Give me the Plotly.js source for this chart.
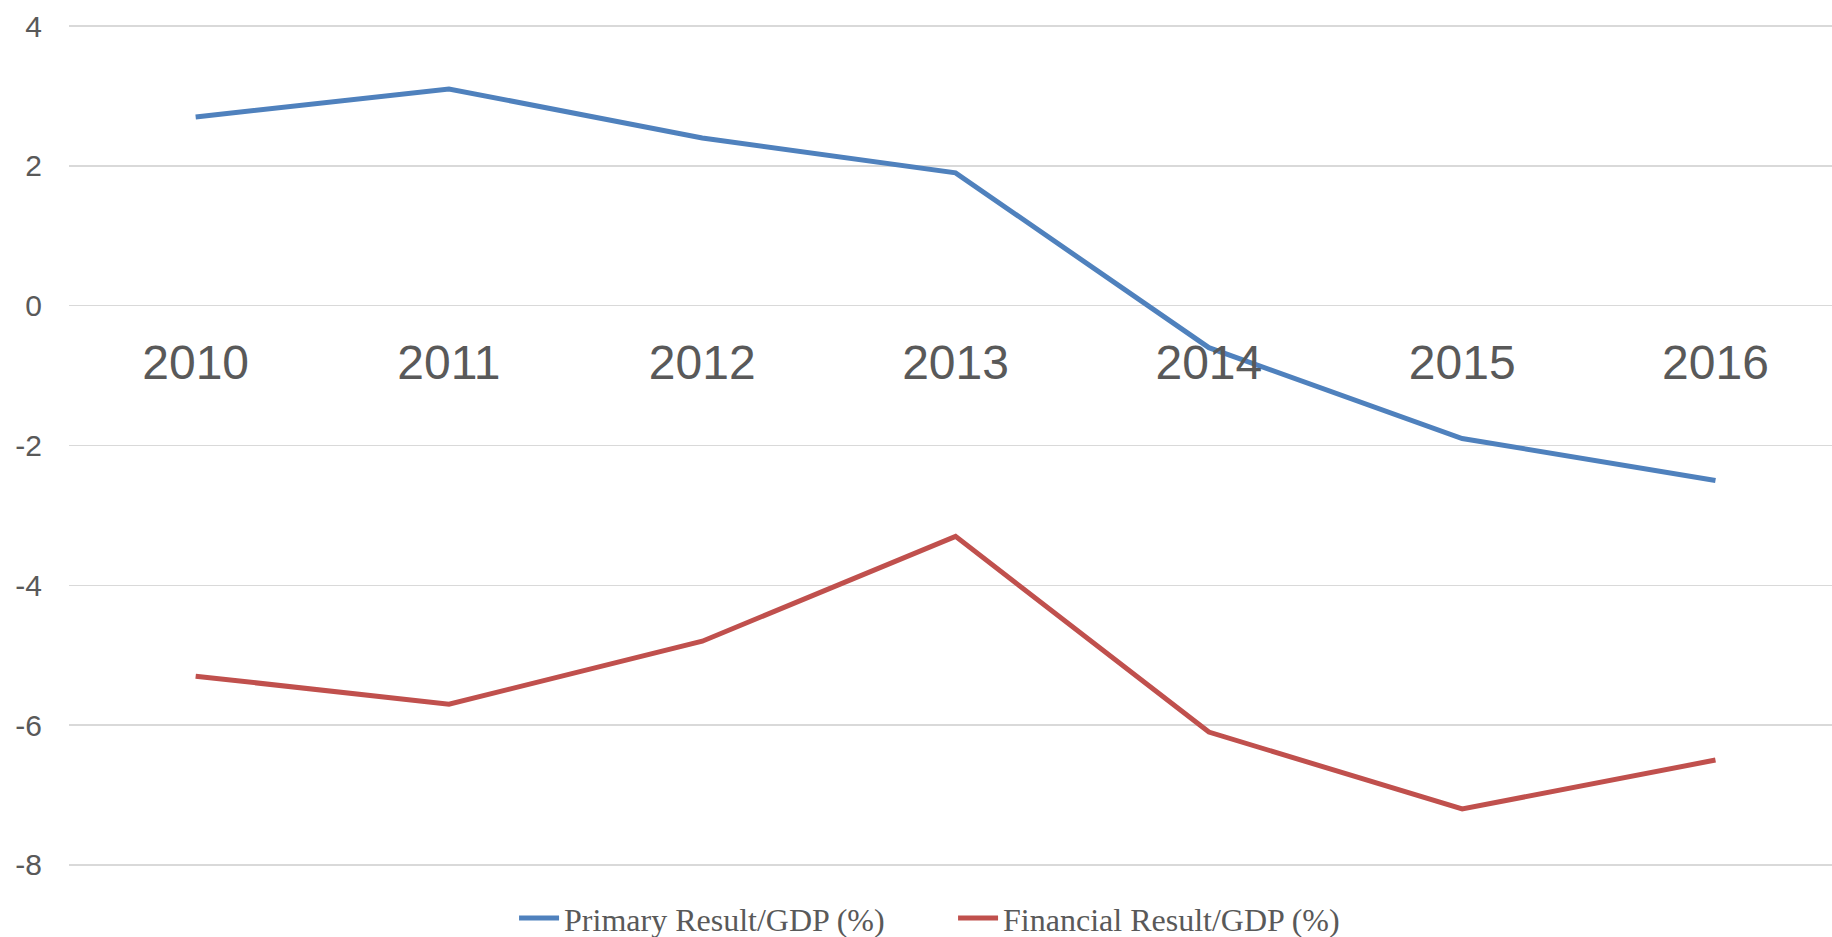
<!DOCTYPE html>
<html>
<head>
<meta charset="utf-8">
<script src="https://cdn.plot.ly/plotly-3.0.1.min.js"></script>
<style>html,body{margin:0;padding:0;background:#fff;}#chart{width:1832px;height:937px;}</style>
</head>
<body>
<div id="chart"></div>
<script>
const years = ["2010", "2011", "2012", "2013", "2014", "2015", "2016"];
const primaryResult = [2.7, 3.1, 2.4, 1.9, -0.6, -1.9, -2.5];
const financialResult = [-5.3, -5.7, -4.8, -3.3, -6.1, -7.2, -6.5];
const yTicks = [-8, -6, -4, -2, 0, 2, 4];

const traces = [
  {x: years, y: primaryResult, type: 'scatter', mode: 'lines', name: 'Primary Result/GDP (%)',
   line: {color: '#4f81bd', width: 5}},
  {x: years, y: financialResult, type: 'scatter', mode: 'lines', name: 'Financial Result/GDP (%)',
   line: {color: '#c0504d', width: 5}}
];

const layout = {
  width: 1832, height: 937,
  margin: {l: 69, r: 0, t: 24, b: 70, pad: 0},
  paper_bgcolor: '#ffffff', plot_bgcolor: '#ffffff',
  showlegend: true,
  legend: {orientation: 'h', xref: 'container', yref: 'container', x: 0.2806, xanchor: 'left', y: 0.02, yanchor: 'middle',
    entrywidth: 384, entrywidthmode: 'pixels',
    font: {family: 'Liberation Serif, Times New Roman, serif', size: 32, color: '#595959'}, itemwidth: 40, tracegroupgap: 0},
  xaxis: {
    type: 'category', range: [-0.5, 6.46], anchor: 'free', position: 8.03/12.06,
    showgrid: false, zeroline: false, showline: false, ticks: '',
    ticklabelstandoff: 24,
    tickfont: {family: 'Liberation Sans, Arial, sans-serif', size: 48, color: '#595959'}
  },
  yaxis: {
    range: [-8.03, 4.03], tickvals: yTicks, ticktext: yTicks.map(String),
    showgrid: true, gridcolor: '#d9d9d9', gridwidth: 1.5, zeroline: false, showline: false, ticks: '',
    ticklabelstandoff: 26,
    tickfont: {family: 'Liberation Sans, Arial, sans-serif', size: 30, color: '#595959'}
  }
};

Plotly.newPlot('chart', traces, layout, {displayModeBar: false, staticPlot: true});
</script>
</body>
</html>
